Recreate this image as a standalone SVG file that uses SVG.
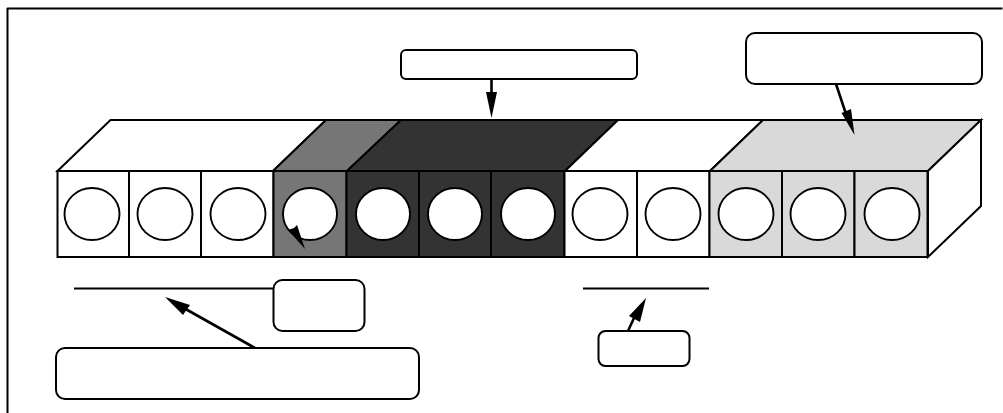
<svg xmlns="http://www.w3.org/2000/svg" width="1003" height="413" viewBox="0 0 1003 413">
<defs>
<style>
.l{stroke:#000;stroke-width:2;fill:none;stroke-linejoin:round}
.c{fill:#fff;stroke:#000;stroke-width:1.9}
.box{fill:#fff;stroke:#000;stroke-width:2}
.w{fill:#fff;stroke:#000;stroke-width:2}
.m{fill:#767676;stroke:#000;stroke-width:2}
.d{fill:#333;stroke:#000;stroke-width:2}
.g{fill:#d9d9d9;stroke:#000;stroke-width:2}
.h{fill:#000;stroke:none}
.a{stroke:#000;stroke-width:2.600;fill:none}
</style>
</defs>
<rect width="1003" height="413" fill="#fff"/>
<path class="l" d="M7.500 413V8.500H1002.500"/>
<g id="top">
<path class="w" d="M57.500 171L110.500 120H326L273 171Z"/>
<path class="m" d="M273 171L326 120H401L347 171Z"/>
<path class="d" d="M347 171L401 120H618L565 171Z"/>
<path class="w" d="M565 171L618 120H763L710 171Z"/>
<path class="g" d="M710 171L763 120H981L928 171Z"/>
<path class="w" d="M928 171L981 120V206L928 257Z"/>
</g>
<g id="cell1"><rect class="w" x="57.500" y="171" width="71.500" height="86"/><ellipse class="c" cx="92" cy="214" rx="27.500" ry="26"/></g>
<g id="cell2"><rect class="w" x="129" y="171" width="72" height="86"/><ellipse class="c" cx="165" cy="214" rx="27.500" ry="26"/></g>
<g id="cell3"><rect class="w" x="201" y="171" width="72.500" height="86"/><ellipse class="c" cx="238" cy="214" rx="27.500" ry="26"/></g>
<g id="cell4"><rect class="m" x="273.500" y="171" width="73" height="86"/><ellipse class="c" cx="310" cy="214" rx="27" ry="26"/></g>
<g id="cell5"><rect class="d" x="346.500" y="171" width="72.500" height="86"/><ellipse class="c" cx="383" cy="214" rx="27" ry="26"/></g>
<g id="cell6"><rect class="d" x="419" y="171" width="72" height="86"/><ellipse class="c" cx="455" cy="214" rx="27" ry="26"/></g>
<g id="cell7"><rect class="d" x="491" y="171" width="73.500" height="86"/><ellipse class="c" cx="528" cy="214" rx="27" ry="26"/></g>
<g id="cell8"><rect class="w" x="564.500" y="171" width="72.500" height="86"/><ellipse class="c" cx="600" cy="214" rx="27.500" ry="26"/></g>
<g id="cell9"><rect class="w" x="637" y="171" width="72.500" height="86"/><ellipse class="c" cx="673" cy="214" rx="27.500" ry="26"/></g>
<g id="cell10"><rect class="g" x="709.500" y="171" width="72.500" height="86"/><ellipse class="c" cx="746" cy="214" rx="27.500" ry="26"/></g>
<g id="cell11"><rect class="g" x="782" y="171" width="72.500" height="86"/><ellipse class="c" cx="818" cy="214" rx="27.500" ry="26"/></g>
<g id="cell12"><rect class="g" x="854.500" y="171" width="73" height="86"/><ellipse class="c" cx="892" cy="214" rx="27.500" ry="26"/></g>
<g id="connectors">
<path class="l" d="M74 288.500H274"/>
<path class="l" d="M583 288.500H709"/>
<path class="a" d="M491.500 79V95"/><path class="h" d="M491.500 118L486 92H497Z"/>
<path class="a" d="M836 84L846 114"/><path class="h" d="M854.500 135L841.500 113L851 109Z"/>
<path class="h" d="M305 249L288 230L294 228L297 225Z"/>
<path class="a" d="M255 348L182 307"/><path class="h" d="M165 297L190 305L183 315Z"/>
<path class="a" d="M628 331L634 318"/><path class="h" d="M646 298L640 322L629 316Z"/>
</g>
<g id="box-top"><rect class="box" x="401" y="50" width="236" height="29" rx="5"/></g>
<g id="box-right"><rect class="box" x="746" y="33" width="236" height="51" rx="9"/></g>
<g id="box-small-left"><rect class="box" x="273.500" y="280" width="91" height="51" rx="9"/></g>
<g id="box-bottom-left"><rect class="box" x="56" y="348" width="363" height="51" rx="9"/></g>
<g id="box-small-right"><rect class="box" x="598.500" y="331" width="91" height="35" rx="7"/></g>
</svg>
